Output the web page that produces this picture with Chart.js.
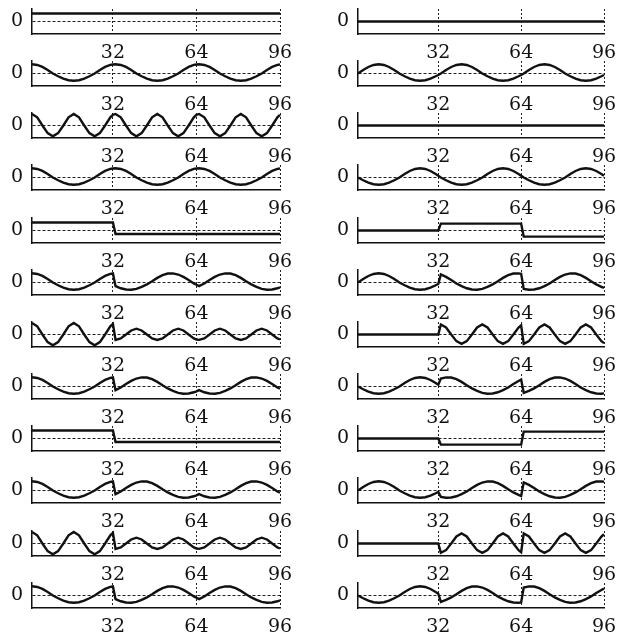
<!DOCTYPE html>
<html>
<head>
<meta charset="utf-8">
<script src="https://cdn.jsdelivr.net/npm/chart.js@4.4.0/dist/chart.umd.min.js"></script>
<style>
  html, body { margin: 0; padding: 0; background: #fff; overflow: hidden; }
  #wrap { position: relative; width: 619px; height: 632px; }
  #wrap canvas { position: absolute; }
</style>
</head>
<body>
<div id="wrap"></div>
<script>
// sample positions (jumps sit between 32/33 and 64/65)
const xs = [1,3,5,7,9,11,13,15,17,19,21,23,25,27,29,31,32,
            33,35,37,39,41,43,45,47,49,51,53,55,57,59,61,63,64,
            65,67,69,71,73,75,77,79,81,83,85,87,89,91,93,95,96];
const xTicks = [32, 64, 96];
const yTicks = [0];

// left column, rows 1..12
const l01 = [0.83,0.83,0.83,0.83,0.83,0.83,0.83,0.83,0.83,0.83,0.83,0.83,0.83,0.83,0.83,0.83,0.83,
             0.83,0.83,0.83,0.83,0.83,0.83,0.83,0.83,0.83,0.83,0.83,0.83,0.83,0.83,0.83,0.83,0.83,
             0.83,0.83,0.83,0.83,0.83,0.83,0.83,0.83,0.83,0.83,0.83,0.83,0.83,0.83,0.83,0.83,0.83];
const l02 = [0.96,0.89,0.68,0.37,0,-0.29,-0.54,-0.7,-0.76,-0.7,-0.54,-0.29,0,0.37,0.68,0.89,0.94,
             0.96,0.89,0.68,0.37,0,-0.29,-0.54,-0.7,-0.76,-0.7,-0.54,-0.29,0,0.37,0.68,0.89,0.94,
             0.96,0.89,0.68,0.37,0,-0.29,-0.54,-0.7,-0.76,-0.7,-0.54,-0.29,0,0.37,0.68,0.89,0.94];
const l03 = [1.2,0.85,0,-0.79,-1.12,-0.79,0,0.85,1.2,0.85,0,-0.79,-1.12,-0.79,0,0.85,1.11,
             1.2,0.85,0,-0.79,-1.12,-0.79,0,0.85,1.2,0.85,0,-0.79,-1.12,-0.79,0,0.85,1.11,
             1.2,0.85,0,-0.79,-1.12,-0.79,0,0.85,1.2,0.85,0,-0.79,-1.12,-0.79,0,0.85,1.11];
const l04 = [0.96,0.89,0.68,0.37,0,-0.29,-0.54,-0.7,-0.76,-0.7,-0.54,-0.29,0,0.37,0.68,0.89,0.94,
             0.96,0.89,0.68,0.37,0,-0.29,-0.54,-0.7,-0.76,-0.7,-0.54,-0.29,0,0.37,0.68,0.89,0.94,
             0.96,0.89,0.68,0.37,0,-0.29,-0.54,-0.7,-0.76,-0.7,-0.54,-0.29,0,0.37,0.68,0.89,0.94];
const l05 = [0.83,0.83,0.83,0.83,0.83,0.83,0.83,0.83,0.83,0.83,0.83,0.83,0.83,0.83,0.83,0.83,0.83,
             -0.37,-0.37,-0.37,-0.37,-0.37,-0.37,-0.37,-0.37,-0.37,-0.37,-0.37,-0.37,-0.37,-0.37,-0.37,-0.37,-0.37,
             -0.37,-0.37,-0.37,-0.37,-0.37,-0.37,-0.37,-0.37,-0.37,-0.37,-0.37,-0.37,-0.37,-0.37,-0.37,-0.37,-0.37];
const l06 = [0.96,0.89,0.68,0.37,0,-0.29,-0.54,-0.7,-0.76,-0.7,-0.54,-0.29,0,0.37,0.68,0.89,0.94,
             -0.38,-0.6,-0.73,-0.75,-0.66,-0.46,-0.2,0.13,0.48,0.76,0.93,0.95,0.83,0.58,0.25,-0.1,-0.24,
             -0.38,-0.1,0.25,0.58,0.83,0.95,0.93,0.76,0.48,0.13,-0.2,-0.46,-0.66,-0.75,-0.73,-0.6,-0.5];
const l07 = [1.2,0.85,0,-0.79,-1.12,-0.79,0,0.85,1.2,0.85,0,-0.79,-1.12,-0.79,0,0.85,1.11,
             -0.56,-0.4,0,0.42,0.6,0.42,0,-0.4,-0.56,-0.4,0,0.42,0.6,0.42,0,-0.4,-0.52,
             -0.56,-0.4,0,0.42,0.6,0.42,0,-0.4,-0.56,-0.4,0,0.42,0.6,0.42,0,-0.4,-0.52];
const l08 = [0.96,0.89,0.68,0.37,0,-0.29,-0.54,-0.7,-0.76,-0.7,-0.54,-0.29,0,0.37,0.68,0.89,0.94,
             -0.38,-0.1,0.25,0.58,0.83,0.95,0.93,0.76,0.48,0.13,-0.2,-0.46,-0.66,-0.75,-0.73,-0.6,-0.5,
             -0.38,-0.6,-0.73,-0.75,-0.66,-0.46,-0.2,0.13,0.48,0.76,0.93,0.95,0.83,0.58,0.25,-0.1,-0.24];
const l09 = [0.83,0.83,0.83,0.83,0.83,0.83,0.83,0.83,0.83,0.83,0.83,0.83,0.83,0.83,0.83,0.83,0.83,
             -0.37,-0.37,-0.37,-0.37,-0.37,-0.37,-0.37,-0.37,-0.37,-0.37,-0.37,-0.37,-0.37,-0.37,-0.37,-0.37,-0.37,
             -0.37,-0.37,-0.37,-0.37,-0.37,-0.37,-0.37,-0.37,-0.37,-0.37,-0.37,-0.37,-0.37,-0.37,-0.37,-0.37,-0.37];
const l10 = [0.96,0.89,0.68,0.37,0,-0.29,-0.54,-0.7,-0.76,-0.7,-0.54,-0.29,0,0.37,0.68,0.89,0.94,
             -0.38,-0.1,0.25,0.58,0.83,0.95,0.93,0.76,0.48,0.13,-0.2,-0.46,-0.66,-0.75,-0.73,-0.6,-0.5,
             -0.38,-0.6,-0.73,-0.75,-0.66,-0.46,-0.2,0.13,0.48,0.76,0.93,0.95,0.83,0.58,0.25,-0.1,-0.24];
const l11 = [1.2,0.85,0,-0.79,-1.12,-0.79,0,0.85,1.2,0.85,0,-0.79,-1.12,-0.79,0,0.85,1.11,
             -0.56,-0.4,0,0.42,0.6,0.42,0,-0.4,-0.56,-0.4,0,0.42,0.6,0.42,0,-0.4,-0.52,
             -0.56,-0.4,0,0.42,0.6,0.42,0,-0.4,-0.56,-0.4,0,0.42,0.6,0.42,0,-0.4,-0.52];
const l12 = [0.96,0.89,0.68,0.37,0,-0.29,-0.54,-0.7,-0.76,-0.7,-0.54,-0.29,0,0.37,0.68,0.89,0.94,
             -0.38,-0.6,-0.73,-0.75,-0.66,-0.46,-0.2,0.13,0.48,0.76,0.93,0.95,0.83,0.58,0.25,-0.1,-0.24,
             -0.38,-0.1,0.25,0.58,0.83,0.95,0.93,0.76,0.48,0.13,-0.2,-0.46,-0.66,-0.75,-0.73,-0.6,-0.5];

// right column, rows 1..12
const r01 = [0,0,0,0,0,0,0,0,0,0,0,0,0,0,0,0,0,
             0,0,0,0,0,0,0,0,0,0,0,0,0,0,0,0,0,
             0,0,0,0,0,0,0,0,0,0,0,0,0,0,0,0,0];
const r02 = [0,0.37,0.68,0.89,0.96,0.89,0.68,0.37,0,-0.29,-0.54,-0.7,-0.76,-0.7,-0.54,-0.29,-0.15,
             0,0.37,0.68,0.89,0.96,0.89,0.68,0.37,0,-0.29,-0.54,-0.7,-0.76,-0.7,-0.54,-0.29,-0.15,
             0,0.37,0.68,0.89,0.96,0.89,0.68,0.37,0,-0.29,-0.54,-0.7,-0.76,-0.7,-0.54,-0.29,-0.15];
const r03 = [0,0,0,0,0,0,0,0,0,0,0,0,0,0,0,0,0,
             0,0,0,0,0,0,0,0,0,0,0,0,0,0,0,0,0,
             0,0,0,0,0,0,0,0,0,0,0,0,0,0,0,0,0];
const r04 = [0,-0.29,-0.54,-0.7,-0.76,-0.7,-0.54,-0.29,0,0.37,0.68,0.89,0.96,0.89,0.68,0.37,0.19,
             0,-0.29,-0.54,-0.7,-0.76,-0.7,-0.54,-0.29,0,0.37,0.68,0.89,0.96,0.89,0.68,0.37,0.19,
             0,-0.29,-0.54,-0.7,-0.76,-0.7,-0.54,-0.29,0,0.37,0.68,0.89,0.96,0.89,0.68,0.37,0.19];
const r05 = [0,0,0,0,0,0,0,0,0,0,0,0,0,0,0,0,0,
             0.72,0.72,0.72,0.72,0.72,0.72,0.72,0.72,0.72,0.72,0.72,0.72,0.72,0.72,0.72,0.72,0.72,
             -0.64,-0.64,-0.64,-0.64,-0.64,-0.64,-0.64,-0.64,-0.64,-0.64,-0.64,-0.64,-0.64,-0.64,-0.64,-0.64,-0.64];
const r06 = [0,0.37,0.68,0.89,0.96,0.89,0.68,0.37,0,-0.29,-0.54,-0.7,-0.76,-0.7,-0.54,-0.29,-0.15,
             0.83,0.58,0.25,-0.1,-0.38,-0.6,-0.73,-0.75,-0.66,-0.46,-0.2,0.13,0.48,0.76,0.93,0.95,0.91,
             -0.66,-0.75,-0.73,-0.6,-0.38,-0.1,0.25,0.58,0.83,0.95,0.93,0.76,0.48,0.13,-0.2,-0.46,-0.57];
const r07 = [0,0,0,0,0,0,0,0,0,0,0,0,0,0,0,0,0,
             1.04,0.73,0,-0.69,-0.97,-0.69,0,0.73,1.04,0.73,0,-0.69,-0.97,-0.69,0,0.73,0.96,
             -0.97,-0.69,0,0.73,1.04,0.73,0,-0.69,-0.97,-0.69,0,0.73,1.04,0.73,0,-0.69,-0.9];
const r08 = [0,-0.29,-0.54,-0.7,-0.76,-0.7,-0.54,-0.29,0,0.37,0.68,0.89,0.96,0.89,0.68,0.37,0.19,
             0.83,0.95,0.93,0.76,0.48,0.13,-0.2,-0.46,-0.66,-0.75,-0.73,-0.6,-0.38,-0.1,0.25,0.58,0.72,
             -0.66,-0.46,-0.2,0.13,0.48,0.76,0.93,0.95,0.83,0.58,0.25,-0.1,-0.38,-0.6,-0.73,-0.75,-0.72];
const r09 = [0,0,0,0,0,0,0,0,0,0,0,0,0,0,0,0,0,
             -0.64,-0.64,-0.64,-0.64,-0.64,-0.64,-0.64,-0.64,-0.64,-0.64,-0.64,-0.64,-0.64,-0.64,-0.64,-0.64,-0.64,
             0.72,0.72,0.72,0.72,0.72,0.72,0.72,0.72,0.72,0.72,0.72,0.72,0.72,0.72,0.72,0.72,0.72];
const r10 = [0,0.37,0.68,0.89,0.96,0.89,0.68,0.37,0,-0.29,-0.54,-0.7,-0.76,-0.7,-0.54,-0.29,-0.15,
             -0.66,-0.75,-0.73,-0.6,-0.38,-0.1,0.25,0.58,0.83,0.95,0.93,0.76,0.48,0.13,-0.2,-0.46,-0.57,
             0.83,0.58,0.25,-0.1,-0.38,-0.6,-0.73,-0.75,-0.66,-0.46,-0.2,0.13,0.48,0.76,0.93,0.95,0.91];
const r11 = [0,0,0,0,0,0,0,0,0,0,0,0,0,0,0,0,0,
             -0.97,-0.69,0,0.73,1.04,0.73,0,-0.69,-0.97,-0.69,0,0.73,1.04,0.73,0,-0.69,-0.9,
             1.04,0.73,0,-0.69,-0.97,-0.69,0,0.73,1.04,0.73,0,-0.69,-0.97,-0.69,0,0.73,0.96];
const r12 = [0,-0.29,-0.54,-0.7,-0.76,-0.7,-0.54,-0.29,0,0.37,0.68,0.89,0.96,0.89,0.68,0.37,0.19,
             -0.66,-0.46,-0.2,0.13,0.48,0.76,0.93,0.95,0.83,0.58,0.25,-0.1,-0.38,-0.6,-0.73,-0.75,-0.72,
             0.83,0.95,0.93,0.76,0.48,0.13,-0.2,-0.46,-0.66,-0.75,-0.73,-0.6,-0.38,-0.1,0.25,0.58,0.72];

const leftRows = [l01, l02, l03, l04, l05, l06, l07, l08, l09, l10, l11, l12];
const rightRows = [r01, r02, r03, r04, r05, r06, r07, r08, r09, r10, r11, r12];

const wrap = document.getElementById("wrap");
const tickFont = { family: "'DejaVu Serif', serif", size: 19 };

function makePanel(values, left, top, rightPad) {
  const canvas = document.createElement("canvas");
  canvas.width = 300;
  canvas.height = 72;
  canvas.style.left = left + "px";
  canvas.style.top = top + "px";
  wrap.appendChild(canvas);

  new Chart(canvas.getContext("2d"), {
    type: "line",
    data: {
      datasets: [{
        data: xs.map((x, i) => ({ x: x, y: values[i] })),
        borderColor: "#111",
        borderWidth: 2.4,
        pointRadius: 0,
        tension: 0,
        clip: false
      }]
    },
    options: {
      responsive: false,
      animation: false,
      devicePixelRatio: 1,
      // bottom padding leaves room for the tick labels below the axis box
      layout: { padding: { left: 0, right: rightPad, top: 6, bottom: 16 } },
      plugins: { legend: { display: false }, tooltip: { enabled: false } },
      scales: {
        x: {
          type: "linear",
          min: 1,
          max: 96,
          afterBuildTicks: axis => { axis.ticks = xTicks.map(v => ({ value: v })); },
          afterFit: axis => { axis.height = 25; axis.paddingLeft = 0; axis.paddingRight = 0; },
          grid: { color: "#222", lineWidth: 1, drawTicks: false },
          border: { display: true, color: "#111", width: 1.5, dash: [2, 2] },
          ticks: { color: "#111", font: tickFont, padding: 8, maxRotation: 0, autoSkip: false }
        },
        y: {
          min: -1.3,
          max: 1.3,
          afterBuildTicks: axis => { axis.ticks = yTicks.map(v => ({ value: v })); },
          afterFit: axis => { axis.width = 32; axis.paddingTop = 0; axis.paddingBottom = 0; },
          grid: { color: "#222", lineWidth: 1, drawTicks: false },
          border: { display: true, color: "#111", width: 1.5, dash: [3, 2] },
          ticks: { color: "#111", font: tickFont, padding: 9 }
        }
      }
    }
  });
}

for (let r = 0; r < 12; r++) {
  const top = Math.round(9 + 52.15 * r) - 6;
  makePanel(leftRows[r], 0, top, 20);
  makePanel(rightRows[r], 326, top, 22);
}
</script>
</body>
</html>
